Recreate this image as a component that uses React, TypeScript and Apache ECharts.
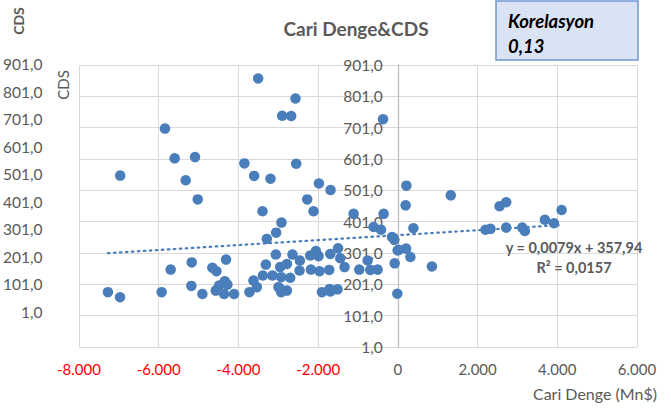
import React, { useEffect, useRef } from "react";
import * as echarts from "echarts";

// Cari Denge (Mn$) values
const cariDenge: number[] = [
  -7275, -6970, -6966, -5926, -5843, -5700, -5600, -5323, -5172, -5181,
  -5089, -5021, -4905, -4654, -4553, -4310, -4569, -4485, -4342, -4277,
  -4360, -4108, -3850, -3724, -3623, -3538, -3606, -3505, -3397, -3387,
  -3312, -3196, -3146, -3061, -3287, -3053, -2920, -2953, -2927, -2784,
  -2643, -2701, -2458, -2467, -2953, -2927, -2784, -2995, -2902, -2676,
  -2568, -2550, -2274, -2116, -1981, -1689, -2199, -2056, -1990, -2181,
  -1965, -1721, -1696, -1905, -1713, -1513, -1696, -1500, -1445, -1337,
  -1110, -967, -759, -691, -508, -608, -422, -372, -357, -146,
  -88, -5, -80, -13, 206, 21, 314, 214, 195, 390,
  854, 1327, 2199, 2324, 2551, 2718, 2718, 3121, 3187, 3689,
  3915, 4108,
];
// CDS values
const cds: number[] = [
  176, 160, 548, 176, 698, 248, 603, 533, 271, 196,
  607, 472, 170, 254, 243, 280, 181, 197, 211, 200,
  170, 170, 587, 176, 213, 192, 547, 858, 434, 229,
  264, 538, 229, 296, 346, 366, 398, 256, 224, 266,
  296, 222, 277, 245, 186, 176, 181, 192, 739, 738,
  794, 586, 472, 434, 523, 502, 293, 307, 291, 248,
  243, 247, 298, 176, 186, 185, 178, 316, 284, 256,
  426, 248, 277, 247, 248, 384, 375, 728, 426, 352,
  343, 309, 268, 171, 315, 311, 288, 516, 453, 380,
  258, 485, 375, 378, 450, 463, 382, 382, 371, 407,
  396, 438,
];
// Linear trendline endpoints (y = 0,0079x + 357,94)
const trendX: number[] = [-7275, 4108];
const trendY: number[] = [300.47, 390.39];

const xTicks: number[] = [-8000, -6000, -4000, -2000, 0, 2000, 4000, 6000];
const yTicks: number[] = [1, 101, 201, 301, 401, 501, 601, 701, 801, 901];

const titleText = "Cari Denge&CDS";
const xAxisTitle = "Cari Denge (Mn$)";
const yAxisTitle = "CDS";
const corrLines = ["Korelasyon", "0,13"];
const eqLines = ["y = 0,0079x + 357,94", "R² = 0,0157"];

const FONT = "Lato, 'Noto Sans', sans-serif";
const GRAY = "#595959";
const BLUE = "#4a7ebb";

const GRID_LEFT = 79;
const GRID_WIDTH = 558;

const fmtY = (v: number) => Number(v).toFixed(1).replace(".", ",");
const fmtX = (v: number) => {
  const n = Number(v);
  const s = Math.abs(n).toString().replace(/\B(?=(\d{3})+(?!\d))/g, ".");
  return (n < 0 ? "-" : "") + s;
};

export default function App() {
  const ref = useRef<HTMLDivElement>(null);
  useEffect(() => {
    if (!ref.current) return;
    const chart = echarts.init(ref.current, undefined, { renderer: "svg" });
    const points = cariDenge.map((x, i) => [x, cds[i]]);
    const trend = trendX.map((x, i) => [x, trendY[i]]);
    const xMin = xTicks[0];
    const xMax = xTicks[xTicks.length - 1];
    // shift the value axis so it sits at x = 0, like Excel's crossing axis
    const zeroOffset = (GRID_WIDTH * (0 - xMin)) / (xMax - xMin);
    chart.setOption({
      animation: false,
      textStyle: { fontFamily: FONT },
      grid: [
        { left: GRID_LEFT, top: 65, width: GRID_WIDTH, height: 282 },
        { left: GRID_LEFT, top: 64, width: GRID_WIDTH, height: 248 },
      ],
      xAxis: [
        {
          type: "value",
          gridIndex: 0,
          min: xMin,
          max: xMax,
          interval: 2000,
          axisLine: { show: false },
          axisTick: { show: false },
          splitLine: { show: true, lineStyle: { color: "#d9d9d9", width: 1 } },
          axisLabel: {
            fontFamily: FONT,
            fontSize: 15,
            margin: 14,
            formatter: (v: number) => fmtX(v),
            color: (v: any) => (Number(v) < 0 ? "#ff0000" : GRAY),
          },
        },
        {
          type: "value",
          gridIndex: 1,
          min: xMin,
          max: xMax,
          show: false,
        },
      ],
      yAxis: [
        {
          type: "value",
          gridIndex: 0,
          position: "left",
          offset: -zeroOffset,
          min: yTicks[0],
          max: yTicks[yTicks.length - 1],
          interval: 100,
          axisLine: { show: true, onZero: false, lineStyle: { color: "#bfbfbf", width: 1.3 } },
          axisTick: { show: false },
          splitLine: { show: true, lineStyle: { color: "#d9d9d9", width: 1 } },
          axisLabel: {
            fontFamily: FONT,
            fontSize: 15.5,
            color: GRAY,
            margin: 15,
            formatter: (v: number) => fmtY(v),
          },
          z: 2,
        },
        {
          type: "value",
          gridIndex: 1,
          min: yTicks[0],
          max: yTicks[yTicks.length - 1],
          interval: 100,
          axisLine: { show: false, onZero: false },
          axisTick: { show: false },
          splitLine: { show: false },
          axisLabel: {
            fontFamily: FONT,
            fontSize: 15.5,
            color: GRAY,
            margin: 37,
            formatter: (v: number) => fmtY(v),
          },
        },
      ],
      series: [
        {
          type: "line",
          xAxisIndex: 0,
          yAxisIndex: 0,
          data: trend,
          showSymbol: false,
          symbol: "none",
          lineStyle: { color: BLUE, width: 2.2, type: [1.6, 4.4], cap: "round" },
          silent: true,
          z: 3,
        },
        {
          type: "scatter",
          xAxisIndex: 0,
          yAxisIndex: 0,
          data: points,
          symbol: "circle",
          symbolSize: 10.5,
          itemStyle: { color: BLUE, opacity: 1 },
          z: 4,
        },
      ],
      graphic: [
        {
          type: "text",
          x: 356,
          y: 28,
          style: {
            text: titleText,
            fontFamily: FONT,
            fontSize: 19,
            fontWeight: "bold",
            fill: GRAY,
            align: "center",
            verticalAlign: "middle",
          },
        },
        {
          type: "text",
          x: 18,
          y: 21,
          rotation: Math.PI / 2,
          style: {
            text: yAxisTitle,
            fontFamily: FONT,
            fontSize: 14,
            fontWeight: "bold",
            fill: GRAY,
            align: "center",
            verticalAlign: "middle",
          },
        },
        {
          type: "text",
          x: 63,
          y: 85,
          rotation: Math.PI / 2,
          style: {
            text: yAxisTitle,
            fontFamily: FONT,
            fontSize: 15,
            fill: GRAY,
            align: "center",
            verticalAlign: "middle",
          },
        },
        {
          type: "text",
          x: 657,
          y: 393,
          style: {
            text: xAxisTitle,
            fontFamily: FONT,
            fontSize: 16,
            fill: GRAY,
            align: "right",
            verticalAlign: "middle",
          },
        },
        {
          type: "rect",
          shape: { x: 496, y: 1, width: 142, height: 59 },
          style: { fill: "#dae3f3", stroke: "#6f97cf", lineWidth: 1.5 },
          z: 10,
        },
        {
          type: "text",
          x: 508,
          y: 21,
          z: 11,
          style: {
            text: corrLines[0],
            fontFamily: FONT,
            fontSize: 18.5,
            fontWeight: "bold",
            fontStyle: "italic",
            fill: "#000000",
            align: "left",
            verticalAlign: "middle",
          },
        },
        {
          type: "text",
          x: 508,
          y: 46,
          z: 11,
          style: {
            text: corrLines[1],
            fontFamily: FONT,
            fontSize: 18.5,
            fontWeight: "bold",
            fontStyle: "italic",
            fill: "#000000",
            align: "left",
            verticalAlign: "middle",
          },
        },
        {
          type: "text",
          x: 574,
          y: 247,
          z: 11,
          style: {
            text: eqLines[0],
            fontFamily: FONT,
            fontSize: 14.5,
            fontWeight: "bold",
            fill: GRAY,
            align: "center",
            verticalAlign: "middle",
          },
        },
        {
          type: "text",
          x: 574,
          y: 267,
          z: 11,
          style: {
            text: eqLines[1],
            fontFamily: FONT,
            fontSize: 14.5,
            fontWeight: "bold",
            fill: GRAY,
            align: "center",
            verticalAlign: "middle",
          },
        },
      ],
    });
    return () => chart.dispose();
  }, []);
  return (
    <div
      ref={ref}
      style={{ position: "fixed", left: 0, top: 0, width: 671, height: 410, background: "#ffffff" }}
    />
  );
}
